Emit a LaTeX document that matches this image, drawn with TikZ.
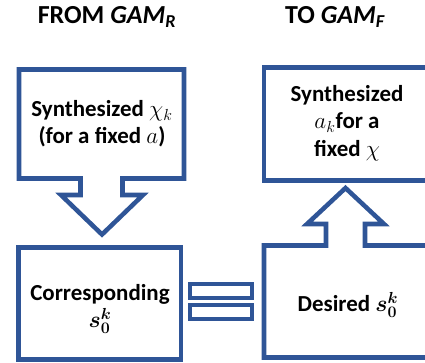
\documentclass[tikz,border=0pt]{standalone}
\usepackage{amsmath,bm}
\usepackage{fontspec}
\setmainfont{Carlito}
\definecolor{bblue}{HTML}{2F5597}
\begin{document}
\begin{tikzpicture}[x=0.75pt,y=-0.75pt,
  shp/.style={draw=bblue,line width=3.4pt,fill=white,miter limit=10},
  lbl/.style={font=\fontsize{17.2}{20.5}\selectfont\bfseries,align=center,inner sep=0},
  ttl/.style={font=\fontsize{19.5}{23}\selectfont\bfseries,inner sep=0}]
\useasboundingbox (0,0) rectangle (425,362);
\clip (0,0) rectangle (425,362);
% left top callout with down arrow
\draw[shp] (19,69.5) -- (184,69.5) -- (184,178.5) -- (122.5,178.5) -- (122.5,195)
  -- (143,195) -- (102,234.5) -- (61,195) -- (80.5,195) -- (80.5,178.5)
  -- (19,178.5) -- cycle;
% left bottom box
\draw[shp] (18.5,247.5) rectangle (181,359.5);
% equal sign
\draw[shp] (190,284) rectangle (252,298);
\draw[shp] (190,305) rectangle (252,319);
% right top box
\draw[shp] (264,67.5) rectangle (440,180.5);
% right bottom callout with up arrow
\draw[shp] (264,357.5) -- (264,245.5) -- (326,245.5) -- (326,224) -- (307,224)
  -- (345.5,188) -- (384,224) -- (365,224) -- (365,245.5) -- (440,245.5)
  -- (440,357.5) -- cycle;
% titles
\node[ttl] (t1) at (107,17) {FROM \textit{GAM\textsubscript{R}}};
\node[ttl] (t2) at (335,17) {TO \textit{GAM\textsubscript{F}}};
% labels
\node[lbl] (a) at (102,124) {Synthesized $\chi_k$\\(for a fixed $a$)};
\node[lbl] (b) at (347,123) {Synthesized\\$a_k$for a\\fixed $\chi$};
\node[lbl] (c) at (100,309) {Corresponding\\$\bm{s_0^k}$};
\node[lbl] (d) at (348,305) {Desired $\bm{s_0^k}$};
\end{tikzpicture}
\end{document}
